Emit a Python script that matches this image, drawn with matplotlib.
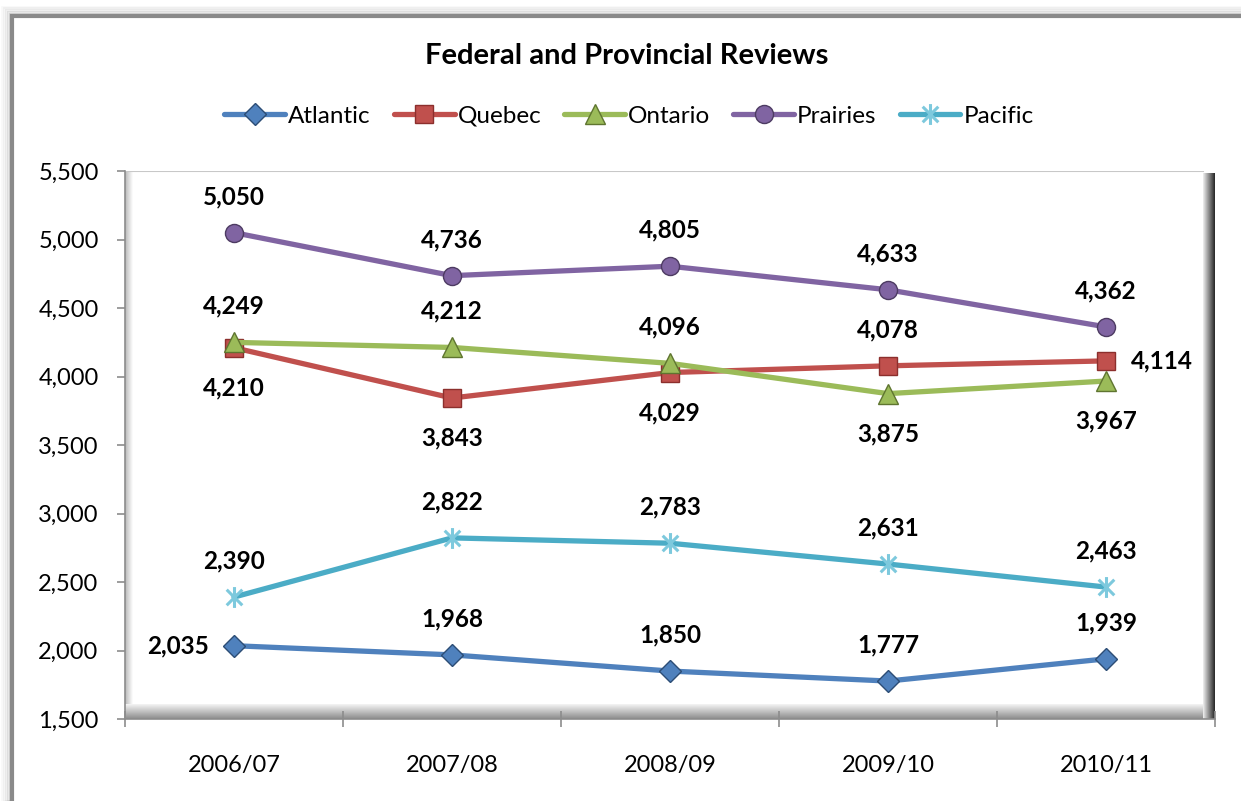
import numpy as np
import matplotlib
matplotlib.use("Agg")
import matplotlib.pyplot as plt
from matplotlib.path import Path
from matplotlib.patches import Rectangle
from matplotlib.ticker import FuncFormatter, FixedLocator

plt.rcParams['font.family'] = ['Lato', 'DejaVu Sans']

# ---- data ----
categories = ["2006/07", "2007/08", "2008/09", "2009/10", "2010/11"]
series_names = ["Atlantic", "Quebec", "Ontario", "Prairies", "Pacific"]
atlantic = [2035, 1968, 1850, 1777, 1939]
quebec = [4210, 3843, 4029, 4078, 4114]
ontario = [4249, 4212, 4096, 3875, 3967]
prairies = [5050, 4736, 4805, 4633, 4362]
pacific = [2390, 2822, 2783, 2631, 2463]
y_ticks = [1500, 2000, 2500, 3000, 3500, 4000, 4500, 5000, 5500]
title = "Federal and Provincial Reviews"

colors = ["#4F81BD", "#C0504D", "#9BBB59", "#8064A2", "#4BACC6"]
edge_colors = ["#2C4D75", "#8C2F2D", "#5F7530", "#4D3B62", "#4BACC6"]

# label placement per point: 'a' above, 'b' below, 'l' left, 'r' right
placements = [
    ['l', 'a', 'a', 'a', 'a'],
    ['b', 'b', 'b', 'a', 'r'],
    ['a', 'a', 'a', 'b', 'b'],
    ['a', 'a', 'a', 'a', 'a'],
    ['a', 'a', 'a', 'a', 'a'],
]

star = Path([(0, -1), (0, 1), (-0.75, -0.75), (0.75, 0.75), (-0.75, 0.75), (0.75, -0.75)],
            [Path.MOVETO, Path.LINETO, Path.MOVETO, Path.LINETO, Path.MOVETO, Path.LINETO])
markers = ['D', 's', '^', 'o', star]
msizes = [11.5, 12.5, 14, 13, 15]

W, H = 1241, 801
fig = plt.figure(figsize=(W / 100, H / 100), dpi=100)
fig.patch.set_facecolor('white')

# chart outer border with soft shadow
for i, a in enumerate([0.05, 0.08, 0.12, 0.18, 0.25]):
    off = 9 - i * 1.8
    fig.patches.append(Rectangle(((11.5 - off) / W, 0), (W) / W, (H - 15.5 + off) / H,
                                 transform=fig.transFigure, fill=False,
                                 edgecolor=(0.5, 0.5, 0.5, a), linewidth=2.0, zorder=0))
fig.patches.append(Rectangle((11.5 / W, -0.05), 1.2, (H - 15.5) / H + 0.05,
                             transform=fig.transFigure, facecolor='white',
                             edgecolor='#8a8a8a', linewidth=3.0, zorder=0.5))

L, R, T, B = 125, 1215, 171, 719
pw, ph = R - L, B - T
rect = [L / W, (H - B) / H, pw / W, ph / H]

# bevel background
axbg = fig.add_axes(rect, zorder=0.8)
axbg.set_xlim(0, 1); axbg.set_ylim(0, 1); axbg.axis('off')
def grad(ax, extent, c0, c1, horizontal=True, n=64):
    c0 = np.array(matplotlib.colors.to_rgb(c0)); c1 = np.array(matplotlib.colors.to_rgb(c1))
    t = np.linspace(0, 1, n)
    img = c0[None, :] * (1 - t[:, None]) + c1[None, :] * t[:, None]
    if horizontal:
        img = img[None, :, :]
    else:
        img = img[:, None, :]
    ax.imshow(img, extent=extent, aspect='auto', origin='lower', interpolation='bilinear')
lw_ = 8 / pw; bh = 15 / ph; rw = 12 / pw
grad(axbg, [0, lw_, bh, 1], '#b8b8b8', '#ffffff', True)
grad(axbg, [0, 1 - rw, 0, bh], '#8c8c8c', '#f4f4f4', False)
grad(axbg, [1 - rw, 1, 0, 1 - 2 / ph], '#f0f0f0', '#262626', True)
axbg.plot([0, 1 - rw], [1, 1], color='#c8c8c8', lw=1.5)
axbg.set_xlim(0, 1); axbg.set_ylim(0, 1)

ax = fig.add_axes(rect, zorder=1)
ax.set_facecolor('none')
all_series = [atlantic, quebec, ontario, prairies, pacific]
x = np.arange(len(categories))
for k, (name, vals) in enumerate(zip(series_names, all_series)):
    mk = markers[k]
    kw = dict(marker=mk, markersize=msizes[k], markerfacecolor=colors[k],
              markeredgecolor=edge_colors[k], markeredgewidth=1.0)
    if k == 4:
        kw.update(markerfacecolor='none', markeredgecolor='#7DC9DD', markeredgewidth=2.2)
    ax.plot(x, vals, color=colors[k], linewidth=3.8, label=name,
            solid_capstyle='round', zorder=3 + k, **kw)
    for i, v in enumerate(vals):
        p = placements[k][i]
        off = {'a': (0, 26), 'b': (0, -29), 'l': (-40, 0), 'r': (40, 0)}[p]
        ax.annotate(f"{v:,}", (x[i], v), xytext=off, textcoords='offset points',
                    ha='center', va='center', fontsize=17.5, fontweight='bold',
                    color='black', zorder=10)

ax.set_xlim(-0.5, len(categories) - 0.5)
ax.set_ylim(y_ticks[0], y_ticks[-1])
ax.set_yticks(y_ticks)
ax.yaxis.set_major_formatter(FuncFormatter(lambda v, p: f"{int(v):,}"))
ax.set_xticks(x)
ax.set_xticklabels(categories)
ax.xaxis.set_minor_locator(FixedLocator(np.arange(-0.5, len(categories), 1.0)))
ax.tick_params(axis='x', which='major', length=0, pad=26, labelsize=17)
ax.tick_params(axis='x', which='minor', direction='inout', length=12, width=1.2, color='#8c8c8c')
ax.tick_params(axis='y', which='major', direction='out', length=6, width=1.2,
               color='#8c8c8c', pad=13, labelsize=17)
for s in ['top', 'right']:
    ax.spines[s].set_visible(False)
ax.spines['left'].set_color('#8c8c8c'); ax.spines['left'].set_linewidth(1.2)
ax.spines['bottom'].set_color('#8c8c8c'); ax.spines['bottom'].set_linewidth(1.2)

fig.text(627 / W, 1 - 56 / H, title, ha='center', va='center', fontsize=21, fontweight='bold')
leg = fig.legend(loc='center', bbox_to_anchor=(629 / W, 1 - 116 / H), ncol=5, frameon=False,
                 fontsize=17.5, handlelength=2.5, handletextpad=0.12, columnspacing=0.95)

fig.savefig("out.png", dpi=100)
